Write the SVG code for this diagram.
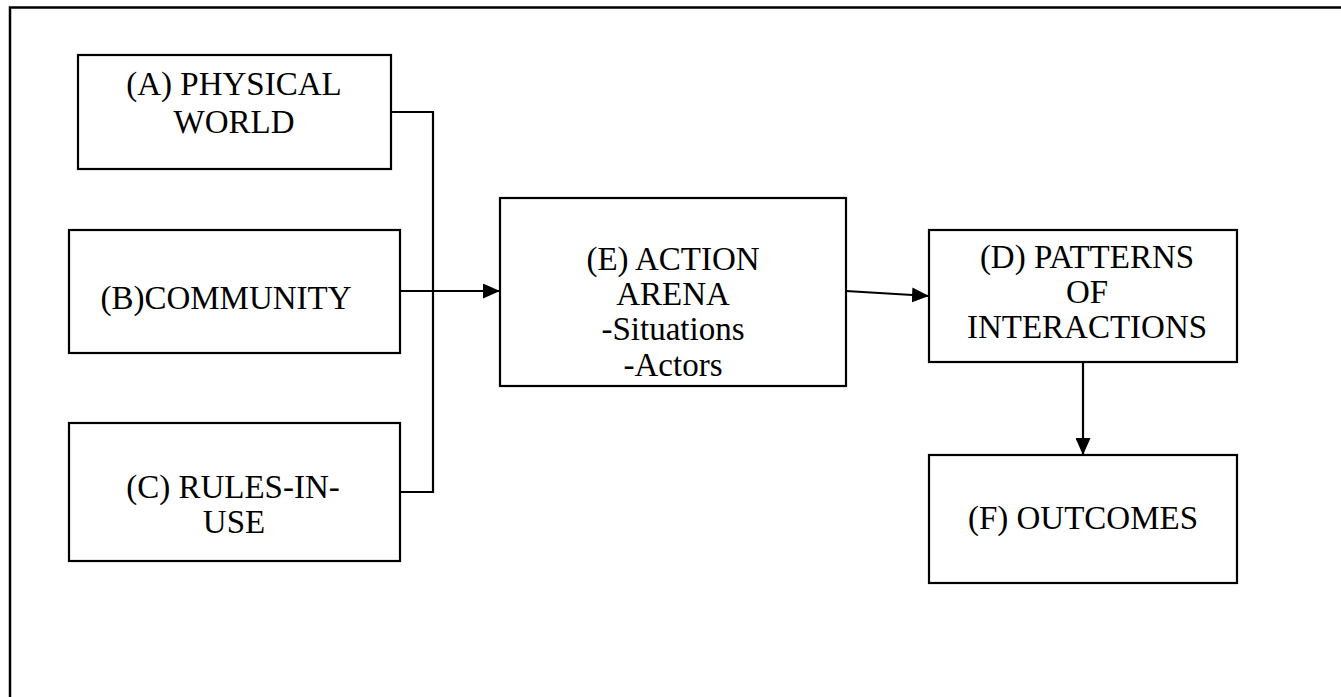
<svg xmlns="http://www.w3.org/2000/svg" width="1341" height="697" viewBox="0 0 1341 697">
<style>
.box{fill:#fff;stroke:#000;stroke-width:2.2}
.t{font-family:"Liberation Serif","Tinos","DejaVu Serif",serif;font-size:33px;fill:#000;text-anchor:middle}
.c{fill:none;stroke:#000;stroke-width:2.2}
</style>
<defs>
<marker id="ah" markerUnits="userSpaceOnUse" markerWidth="18" markerHeight="15" refX="17" refY="7.5" orient="auto">
<path d="M0,0 L17,7.5 L0,15 Z" fill="#000"/>
</marker>
</defs>
<rect x="0" y="0" width="1341" height="697" fill="#fff"/>
<path d="M10,700 V7.5 H1345" fill="none" stroke="#000" stroke-width="2.5"/>
<g id="connectors">
<polyline class="c" points="391,112 433,112 433,492 400,492"/>
<line class="c" x1="400" y1="291" x2="500" y2="291" marker-end="url(#ah)"/>
<line class="c" x1="846" y1="291" x2="929" y2="296" marker-end="url(#ah)"/>
<line class="c" x1="1083" y1="362" x2="1083" y2="455" marker-end="url(#ah)"/>
</g>
<g id="nodeA">
<rect class="box" x="78" y="55" width="313" height="114"/>
<text class="t" x="234" y="95">(A) PHYSICAL</text>
<text class="t" x="234" y="133">WORLD</text>
</g>
<g id="nodeB">
<rect class="box" x="69" y="230" width="331" height="123"/>
<text class="t" x="226" y="309">(B)COMMUNITY</text>
</g>
<g id="nodeC">
<rect class="box" x="69" y="423" width="331" height="138"/>
<text class="t" x="233" y="498">(C) RULES-IN-</text>
<text class="t" x="234" y="533">USE</text>
</g>
<g id="nodeE">
<rect class="box" x="500" y="198" width="346" height="188"/>
<text class="t" x="673" y="270">(E) ACTION</text>
<text class="t" x="673" y="305">ARENA</text>
<text class="t" x="673" y="340">-Situations</text>
<text class="t" x="673" y="376">-Actors</text>
</g>
<g id="nodeD">
<rect class="box" x="929" y="230" width="308" height="132"/>
<text class="t" x="1087" y="268">(D) PATTERNS</text>
<text class="t" x="1087" y="303">OF</text>
<text class="t" x="1087" y="338">INTERACTIONS</text>
</g>
<g id="nodeF">
<rect class="box" x="929" y="455" width="308" height="128"/>
<text class="t" x="1083" y="529">(F) OUTCOMES</text>
</g>
</svg>
